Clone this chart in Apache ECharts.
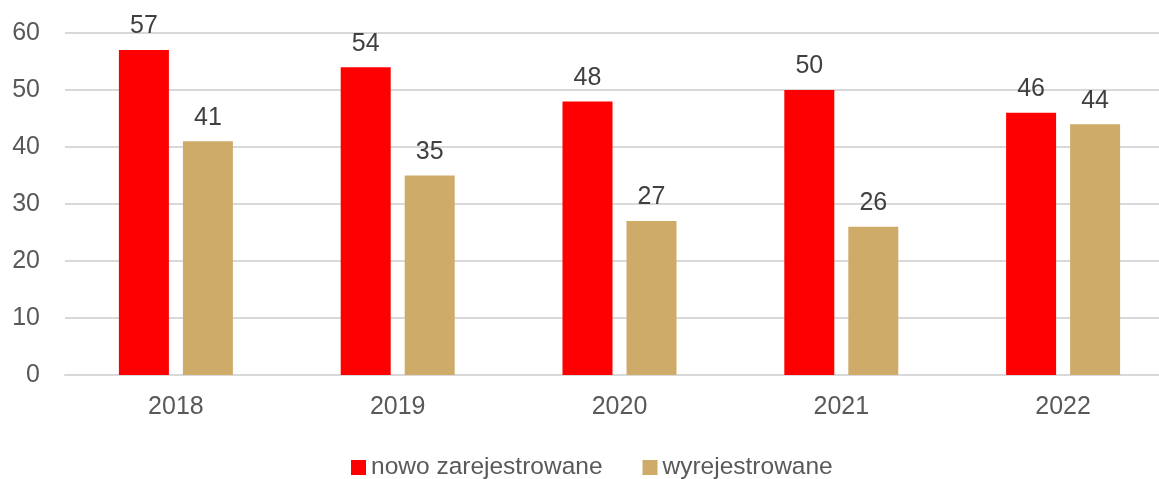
<!DOCTYPE html>
<html>
<head>
  <meta http-equiv="Content-Type" content="text/html; charset=utf-8"/>
  <title>Rejestracje</title>
  <script src="https://cdn.jsdelivr.net/npm/echarts@6/dist/echarts.min.js"></script>
</head>
<body style="margin:0">
<div id="chart" style="width:1159px;height:479px;"></div>
<script type="text/javascript">
var years = ['2018', '2019', '2020', '2021', '2022'];
var nowo = [57, 54, 48, 50, 46];
var wyrej = [41, 35, 27, 26, 44];
var seriesNames = ['nowo zarejestrowane', 'wyrejestrowane'];

var font = '"Liberation Sans", Arial, sans-serif';
var chart = echarts.init(document.getElementById('chart'));

function barSeries(name, data, color) {
  return {
    name: name,
    type: 'bar',
    data: data,
    barWidth: 50,
    barGap: '28%',
    itemStyle: { color: color },
    label: {
      show: true,
      position: 'top',
      distance: 11,
      color: '#404040',
      fontSize: 25,
      fontFamily: font
    }
  };
}

chart.setOption({
  animation: false,
  textStyle: { fontFamily: font },
  grid: { left: 65, top: 33, width: 1109, bottom: 104, outerBoundsMode: 'none' },
  legend: {
    left: 346,
    top: 450,
    itemWidth: 15,
    itemHeight: 15,
    itemGap: 40,
    icon: 'rect',
    textStyle: { color: '#595959', fontSize: 24.5, fontFamily: font },
    data: seriesNames
  },
  xAxis: {
    type: 'category',
    data: years,
    axisLine: { lineStyle: { color: '#d9d9d9', width: 2 } },
    axisTick: { show: false },
    axisLabel: { color: '#595959', fontSize: 25, margin: 20, fontFamily: font }
  },
  yAxis: {
    type: 'value',
    min: 0,
    max: 60,
    interval: 10,
    axisLine: { show: false },
    axisTick: { show: false },
    splitLine: { lineStyle: { color: '#d9d9d9', width: 2 } },
    axisLabel: { color: '#595959', fontSize: 25, margin: 25, fontFamily: font }
  },
  series: [
    barSeries(seriesNames[0], nowo, '#ff0000'),
    barSeries(seriesNames[1], wyrej, '#cfab6a')
  ]
});
</script>
</body>
</html>
